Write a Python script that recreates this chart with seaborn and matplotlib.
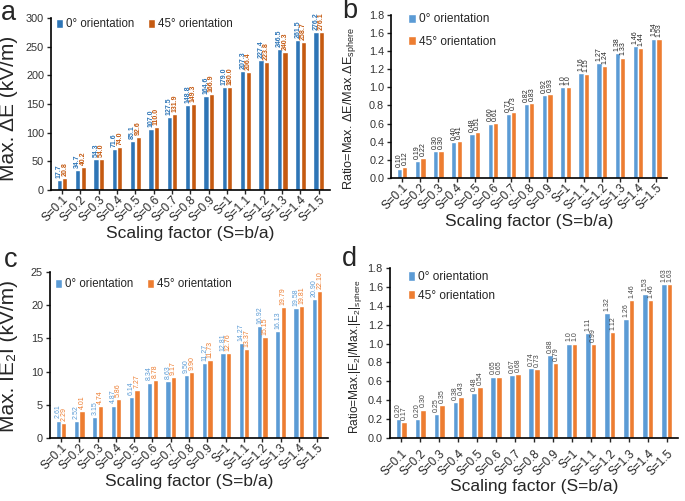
import pandas as pd
import numpy as np
import matplotlib.pyplot as plt
import seaborn as sns

# Datos
scales = ['S=0.1', 'S=0.2', 'S=0.3', 'S=0.4', 'S=0.5', 'S=0.6', 'S=0.7', 'S=0.8',
          'S=0.9', 'S=1', 'S=1.1', 'S=1.2', 'S=1.3', 'S=1.4', 'S=1.5']
series_names = ['0° orientation', '45° orientation']

de_0 = [17.7, 34.7, 54.3, 71.6, 85.1, 107.0, 127.5, 148.8, 164.6, 179.0, 207.3, 227.4, 246.5, 261.5, 276.2]
de_45 = [20.8, 40.2, 54.0, 74.0, 92.6, 110.0, 131.9, 149.3, 166.9, 180.0, 206.4, 223.8, 240.3, 258.7, 276.1]

rde_0 = [0.10, 0.19, 0.30, 0.40, 0.48, 0.60, 0.71, 0.82, 0.92, 1.0, 1.16, 1.27, 1.38, 1.46, 1.54]
rde_45 = [0.12, 0.22, 0.30, 0.41, 0.51, 0.61, 0.73, 0.83, 0.93, 1.0, 1.15, 1.24, 1.33, 1.44, 1.53]

e2_0 = [2.61, 2.52, 3.15, 4.87, 6.14, 8.34, 8.63, 9.50, 11.27, 12.81, 14.27, 16.92, 16.13, 19.58, 20.90]
e2_45 = [2.29, 4.01, 4.74, 5.86, 7.27, 8.78, 9.17, 9.90, 11.73, 12.76, 13.37, 15.15, 19.79, 19.81, 22.10]

re2_0 = [0.20, 0.20, 0.25, 0.38, 0.48, 0.65, 0.67, 0.74, 0.88, 1.0, 1.11, 1.32, 1.26, 1.53, 1.63]
re2_45 = [0.17, 0.30, 0.35, 0.43, 0.54, 0.65, 0.68, 0.73, 0.79, 1.0, 0.99, 1.12, 1.46, 1.46, 1.63]


def make_df(v0, v45):
    return pd.DataFrame({
        'scale': scales * 2,
        'value': v0 + v45,
        'orient': [series_names[0]] * len(scales) + [series_names[1]] * len(scales),
    })


def fmt_labels(vals, dec):
    out = []
    for v in vals:
        if v == 1.0 and dec == 2:
            out.append('1.0')
        else:
            out.append(f'{v:.{dec}f}')
    return out


sns.set_style('white')
plt.rcParams['font.family'] = ['Liberation Sans', 'DejaVu Sans']
plt.rcParams['mathtext.fontset'] = 'custom'
plt.rcParams['mathtext.rm'] = 'Liberation Sans'
plt.rcParams['mathtext.it'] = 'Liberation Sans'

fig = plt.figure(figsize=(6.85, 5.01), dpi=100)
ax_a = fig.add_axes([0.0745, 0.621, 0.407, 0.343])
ax_b = fig.add_axes([0.571, 0.645, 0.403, 0.325])
ax_c = fig.add_axes([0.073, 0.126, 0.406, 0.331])
ax_d = fig.add_axes([0.569, 0.126, 0.421, 0.339])

# (eje, serie 0, serie 45, colores, colores etiquetas, decimales, ylim, paso, ylabel, tamaño,
#  posición ylabel, letra, posición letra, tipo leyenda, ancla leyenda, pad xlabel)
panels = [
    (ax_a, de_0, de_45, ['#2E75B6', '#C55A11'], ['#2E75B6', '#C55A11'], 1, (0, 300), 50,
     'Max. ΔE (kV/m)', 15, (0.027, 0.784), 'a', (0.002, 1.0), 'h', (0.0, 1.025), 1),
    (ax_b, rde_0, rde_45, ['#5B9BD5', '#ED7D31'], ['#222222', '#222222'], 2, (0, 1.8), 0.2,
     r'Ratio=Max. ΔE/Max.ΔE$_{\mathregular{sphere}}$', 9.2, (0.522, 0.783), 'b', (0.499, 1.003),
     'v', (0.045, 1.04), 1),
    (ax_c, e2_0, e2_45, ['#5B9BD5', '#ED7D31'], ['#5B9BD5', '#ED7D31'], 2, (0, 25), 5,
     'Max. IE₂I (kV/m)', 15, (0.027, 0.29), 'c', (0.006, 0.506), 'h', (0.0, 0.99), 1),
    (ax_d, re2_0, re2_45, ['#5B9BD5', '#ED7D31'], ['#444444', '#444444'], 2, (0, 1.8), 0.2,
     r'Ratio=Max.|E$_{\mathregular{2}}$|/Max.|E$_{\mathregular{2}}$|$_{\mathregular{sphere}}$', 8.6,
     (0.532, 0.289), 'd', (0.499, 0.508), 'v', (0.045, 1.01), 5),
]

for ax, v0, v45, cols, lcols, dec, ylim, step, ylab, ysize, ypos, letter, lpos, leg, anchor, xpad in panels:
    df = make_df(v0, v45)
    sns.barplot(data=df, x='scale', y='value', hue='orient', palette=cols,
                width=0.6, gap=0.05, ax=ax, saturation=1)
    for i, cont in enumerate(ax.containers):
        vals = v0 if i == 0 else v45
        ax.bar_label(cont, labels=fmt_labels(vals, dec), rotation=90, fontsize=5.0,
                     color=lcols[i], padding=1.5, fontweight='bold' if dec == 1 else 'normal')
    ticks = np.arange(ylim[0], ylim[1] + step / 2, step)
    ax.set_ylim(*ylim)
    ax.set_yticks(ticks)
    if step < 1:
        ax.set_yticklabels([f'{t:.1f}' for t in ticks])
    ax.set_xlim(-0.6, len(scales) - 0.4)
    ax.set_xlabel('Scaling factor (S=b/a)', fontsize=12.5, labelpad=1)
    ax.set_ylabel(ylab, fontsize=ysize)
    ax.yaxis.set_label_coords(ypos[0], ypos[1], transform=fig.transFigure)
    ax.tick_params(axis='x', labelrotation=45, labelsize=8.5, length=3, width=1, pad=xpad - 1,
                   direction='out', bottom=True)
    ax.tick_params(axis='y', labelsize=7.8, length=3, width=1, direction='out', left=True,
                   labelcolor='#333333', pad=2)
    for lab in ax.get_xticklabels():
        lab.set_ha('right')
        lab.set_rotation_mode('anchor')
    for s in ['top', 'right']:
        ax.spines[s].set_visible(False)
    for s in ['left', 'bottom']:
        ax.spines[s].set_color('black')
        ax.spines[s].set_linewidth(1.2)
    if leg == 'h':
        ax.legend(loc='upper left', ncol=2, frameon=False, fontsize=8.3, handlelength=0.6,
                  handleheight=0.8, handletextpad=0.3, columnspacing=1.2,
                  borderaxespad=0.0, bbox_to_anchor=anchor)
    else:
        lsp = 0.9 if letter == 'b' else 0.55
        ax.legend(loc='upper left', ncol=1, frameon=False, fontsize=8.6, handlelength=0.6,
                  handleheight=0.8, handletextpad=0.3, labelspacing=lsp,
                  borderaxespad=0.0, bbox_to_anchor=anchor)
    fig.text(lpos[0], lpos[1], letter, fontsize=19.5, va='top', ha='left')

plt.savefig('out.png', dpi=100)
